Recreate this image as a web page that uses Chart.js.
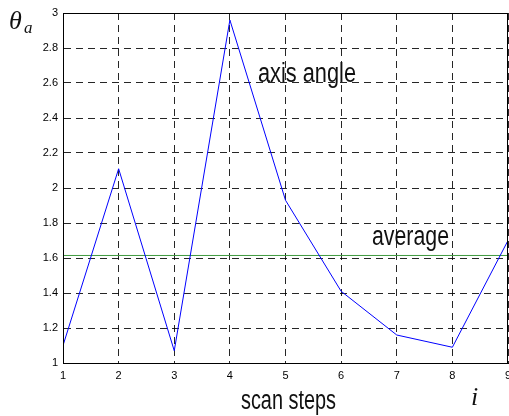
<!DOCTYPE html>
<html>
<head>
<meta charset="utf-8">
<script src="https://cdn.jsdelivr.net/npm/chart.js@4.4.0/dist/chart.umd.min.js"></script>
<style>
  html, body { margin: 0; padding: 0; background: #fff; }
  #wrap { width: 509px; height: 416px; position: relative; }
</style>
</head>
<body>
<div id="wrap"><canvas id="angleChart"></canvas></div>
<script>
/* ── Data ───────────────────────────── */
const steps = [1, 2, 3, 4, 5, 6, 7, 8, 9];
const axisAngle = [1.10, 2.11, 1.07, 2.96, 1.93, 1.41, 1.16, 1.09, 1.70];
const yTicks = [1, 1.2, 1.4, 1.6, 1.8, 2, 2.2, 2.4, 2.6, 2.8, 3];
const xTicks = [1, 2, 3, 4, 5, 6, 7, 8, 9];

const average = axisAngle.reduce((a, b) => a + b, 0) / axisAngle.length;

// narrow label: draw text squeezed to a given width
function narrowText(ctx, text, x, y, width) {
  const w = ctx.measureText(text).width;
  ctx.save();
  ctx.translate(x, y);
  ctx.scale(width / w, 1);
  ctx.fillText(text, 0, 0);
  ctx.restore();
}

/* ── Frame + text labels ───────────── */
const annotate = {
  id: 'annotate',
  afterDraw(chart) {
    const { ctx, chartArea: a } = chart;
    ctx.save();
    ctx.strokeStyle = '#000';
    ctx.lineWidth = 1;
    ctx.setLineDash([]);
    ctx.strokeRect(a.left + 0.5, a.top + 0.5, a.right - a.left - 1, a.bottom - a.top);
    ctx.fillStyle = '#111';
    ctx.textBaseline = 'alphabetic';
    ctx.font = '27px "Liberation Sans", Arial, sans-serif';
    narrowText(ctx, 'axis angle', 258, 82, 98);
    narrowText(ctx, 'average', 372, 245, 77);
    narrowText(ctx, 'scan steps', 241, 409, 95);
    ctx.font = 'italic 26px "Liberation Serif", "DejaVu Serif", serif';
    ctx.fillText('θ', 9, 29);
    ctx.fillText('i', 471, 405);
    ctx.font = 'italic 17px "Liberation Serif", "DejaVu Serif", serif';
    ctx.fillText('a', 24, 33);
    ctx.restore();
  }
};

const gridStyle = { color: 'rgba(0,0,0,0.85)', lineWidth: 1, drawTicks: false };
const tickFont = { family: '"Liberation Sans", Arial, sans-serif', size: 11 };

new Chart(document.getElementById('angleChart'), {
  type: 'line',
  data: {
    datasets: [
      { data: steps.map((s, i) => ({ x: s, y: axisAngle[i] })), borderColor: '#0000ff', borderWidth: 1, pointRadius: 0, tension: 0, fill: false },
      { data: [{ x: steps[0], y: average }, { x: steps[steps.length - 1], y: average }], borderColor: '#3f9a3f', borderWidth: 1, pointRadius: 0, fill: false }
    ]
  },
  options: {
    responsive: true,
    maintainAspectRatio: false,
    animation: false,
    layout: { padding: { top: 13, right: 1, left: 0, bottom: 0 } },
    plugins: { legend: { display: false }, tooltip: { enabled: false } },
    scales: {
      x: {
        type: 'linear', min: 1, max: 9,
        afterBuildTicks: s => { s.ticks = xTicks.map(v => ({ value: v })); },
        afterFit: s => { s.height = 53; s.paddingLeft = 0; s.paddingRight = 0; },
        grid: gridStyle,
        border: { display: true, color: '#000', width: 1, dash: [7, 5] },
        ticks: { color: '#000', font: tickFont, padding: 6, maxRotation: 0 }
      },
      y: {
        type: 'linear', min: 1, max: 3,
        afterBuildTicks: s => { s.ticks = yTicks.map(v => ({ value: v })); },
        afterFit: s => { s.width = 63; s.paddingTop = 0; s.paddingBottom = 0; },
        grid: gridStyle,
        border: { display: true, color: '#000', width: 1, dash: [7, 5] },
        ticks: { color: '#000', font: tickFont, padding: 5, callback: v => String(Math.round(v * 10) / 10) }
      }
    }
  },
  plugins: [annotate]
});
</script>
</body>
</html>
